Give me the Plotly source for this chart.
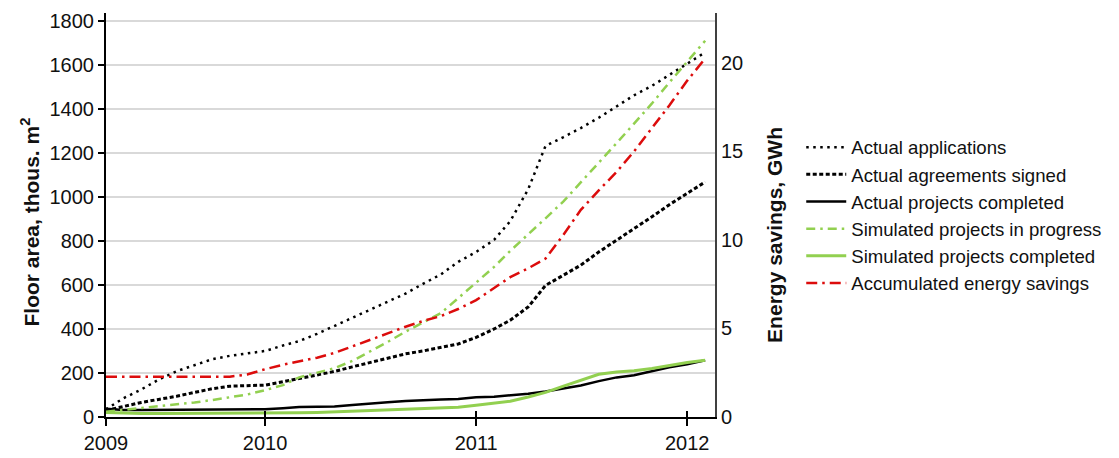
import plotly.graph_objects as go

# Monthly observations, April 2009 - February 2012
months = [
    "2009-04", "2009-05", "2009-06", "2009-07", "2009-08", "2009-09", "2009-10", "2009-11", "2009-12",
    "2010-01", "2010-02", "2010-03", "2010-04", "2010-05", "2010-06", "2010-07", "2010-08", "2010-09",
    "2010-10", "2010-11", "2010-12",
    "2011-01", "2011-02", "2011-03", "2011-04", "2011-05", "2011-06", "2011-07", "2011-08", "2011-09",
    "2011-10", "2011-11", "2011-12",
    "2012-01", "2012-02",
]

# Floor area, thous. m2
actual_applications = [35, 85, 125, 170, 208, 236, 262, 278, 290, 300, 325, 345, 378, 414, 450, 486, 525,
                       561, 605, 648, 705, 750, 805, 890, 1035, 1232, 1272, 1313, 1360, 1412, 1462, 1505,
                       1555, 1608, 1657]
actual_agreements = [30, 48, 66, 80, 94, 112, 128, 140, 141, 145, 160, 175, 191, 207, 228, 248, 268, 287,
                     300, 315, 332, 362, 400, 440, 500, 598, 643, 690, 750, 803, 856, 910, 965, 1018, 1068]
actual_completed = [38, 32, 32, 32, 32, 32, 32, 32, 32, 35, 40, 46, 47, 48, 55, 62, 67, 73, 78, 80, 82,
                    90, 92, 98, 106, 116, 128, 143, 163, 180, 190, 208, 226, 240, 258]
sim_in_progress = [24, 32, 42, 50, 58, 66, 77, 88, 102, 122, 145, 180, 202, 222, 255, 297, 341, 388, 428,
                   472, 540, 610, 682, 755, 828, 903, 980, 1065, 1157, 1245, 1333, 1425, 1520, 1615, 1710]
sim_completed = [20, 17, 16, 16, 16, 16, 16, 16, 16, 16, 17, 19, 21, 24, 27, 30, 34, 38, 40, 42, 44, 53,
                 63, 72, 91, 112, 140, 168, 194, 205, 210, 220, 235, 248, 258]

# Energy savings, GWh
energy_savings = [2.28, 2.28, 2.28, 2.28, 2.28, 2.28, 2.28, 2.28, 2.4, 2.7, 2.95, 3.12, 3.35, 3.62, 3.98,
                  4.32, 4.72, 5.1, 5.42, 5.7, 6.1, 6.6, 7.3, 7.9, 8.4, 8.95, 10.3, 11.7, 12.8, 13.85, 15.0,
                  16.3, 17.6, 19.0, 20.25]

year_ticks = ["2009-04-01", "2010-01-01", "2011-01-01", "2012-01-01"]
year_labels = ["2009", "2010", "2011", "2012"]
area_ticks = list(range(0, 1801, 200))
energy_ticks = [0, 5, 10, 15, 20]

GREEN = "#92d050"
RED = "#dc0c0c"
BLACK = "#000000"
FONT = "Liberation Sans, Arial, sans-serif"

fig = go.Figure()

fig.add_trace(go.Scatter(x=months, y=actual_applications, name="Actual applications", mode="lines",
                         line=dict(color=BLACK, width=2.5, dash="2.5px,4.5px")))
fig.add_trace(go.Scatter(x=months, y=actual_agreements, name="Actual agreements signed", mode="lines",
                         line=dict(color=BLACK, width=3, dash="4px,2.5px")))
fig.add_trace(go.Scatter(x=months, y=actual_completed, name="Actual projects completed", mode="lines",
                         line=dict(color=BLACK, width=2.5)))
fig.add_trace(go.Scatter(x=months, y=sim_in_progress, name="Simulated projects in progress", mode="lines",
                         line=dict(color=GREEN, width=2.5, dash="9px,5px,2.5px,5px")))
fig.add_trace(go.Scatter(x=months, y=sim_completed, name="Simulated projects completed", mode="lines",
                         line=dict(color=GREEN, width=3)))
fig.add_trace(go.Scatter(x=months, y=energy_savings, name="Accumulated energy savings", mode="lines",
                         yaxis="y2", line=dict(color=RED, width=2.5, dash="11px,5px,2.5px,5px")))
# empty trace so the inner tick marks of the time axis are drawn
fig.add_trace(go.Scatter(x=[], y=[], xaxis="x2", showlegend=False, hoverinfo="skip"))

x_range = ["2009-04-01", "2012-02-18"]

fig.update_layout(
    width=1119, height=458,
    margin=dict(l=106, r=399, t=13, b=41, pad=0),
    paper_bgcolor="white", plot_bgcolor="white",
    font=dict(family=FONT, size=20, color="#111111"),
    xaxis=dict(type="date", range=x_range, tickvals=year_ticks, ticktext=year_labels,
               ticks="outside", ticklen=7, tickwidth=1.5, tickcolor=BLACK,
               showline=True, linecolor=BLACK, linewidth=2, showgrid=False, zeroline=False,
               tickfont=dict(size=20), automargin=False),
    xaxis2=dict(type="date", range=x_range, tickvals=year_ticks, overlaying="x", anchor="y",
                ticks="inside", ticklen=6, tickwidth=1.5, tickcolor=BLACK,
                showticklabels=False, showline=False, showgrid=False, zeroline=False,
                automargin=False),
    yaxis=dict(range=[0, 1836], tickvals=area_ticks, ticks="outside", ticklen=6, tickwidth=1.5,
               tickcolor=BLACK, showline=True, linecolor=BLACK, linewidth=2,
               showgrid=True, gridcolor="#d9d9d9", gridwidth=1.5, zeroline=False,
               tickfont=dict(size=20), automargin=False),
    yaxis2=dict(range=[0, 22.82], tickvals=energy_ticks, overlaying="y", side="right",
                showline=True, linecolor="#404040", linewidth=2, ticks="",
                showgrid=False, zeroline=False, tickfont=dict(size=20), automargin=False),
    legend=dict(x=1.1416, y=0.714, xanchor="left", yanchor="top", font=dict(size=18.6),
                itemwidth=40, bgcolor="rgba(0,0,0,0)"),
    showlegend=True,
    annotations=[
        dict(text="<b>Floor area, thous. m<sup>2</sup></b>", xref="paper", yref="paper",
             x=-0.1254, y=0.483, xanchor="center", yanchor="middle", textangle=-90,
             showarrow=False, font=dict(size=21)),
        dict(text="<b>Energy savings, GWh</b>", xref="paper", yref="paper",
             x=1.098, y=0.45, xanchor="center", yanchor="middle", textangle=-90,
             showarrow=False, font=dict(size=21)),
    ],
)

fig.write_html("out.html")
